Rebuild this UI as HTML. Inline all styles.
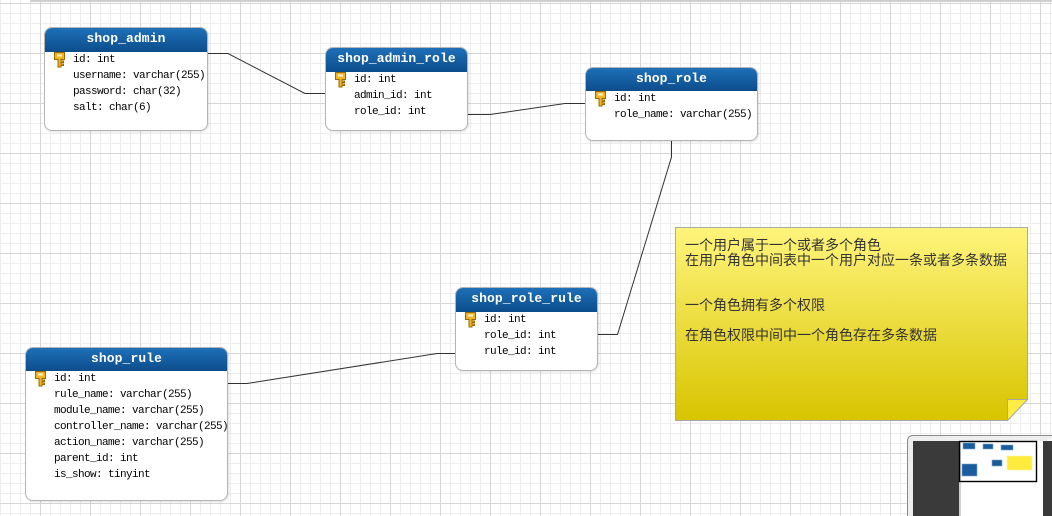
<!DOCTYPE html>
<html><head><meta charset="utf-8">
<style>
html,body{margin:0;padding:0;width:1052px;height:516px;overflow:hidden;background:#fff;}
.tbl{position:absolute;box-sizing:border-box;border:1px solid #b5b5b5;border-radius:8px;background:#fff;overflow:hidden;box-shadow:1px 1px 2px rgba(0,0,0,0.12);}
.hd{position:absolute;left:0;right:0;top:0;background:linear-gradient(#1e70b8,#0c4d8b);color:#fff;font-family:"Liberation Mono",monospace;font-weight:bold;font-size:13px;text-align:center;letter-spacing:0.1px;}
.rows{position:absolute;left:28px;font-family:"Liberation Mono",monospace;font-size:11px;letter-spacing:-0.6px;line-height:16px;color:#000;white-space:pre;}
.key{position:absolute;left:8px;}
.note{position:absolute;left:685px;top:238px;font-family:"Liberation Sans","Noto Sans CJK SC",sans-serif;font-size:14px;line-height:15px;color:#333;white-space:pre;}
</style></head><body>
<svg width="1052" height="516" style="position:absolute;left:0;top:0">
<defs>
<pattern id="mi" width="10" height="10" patternUnits="userSpaceOnUse" x="0" y="3"><rect x="0" y="0" width="1" height="10" fill="#ededed"/><rect x="0" y="0" width="10" height="1" fill="#ededed"/></pattern>
<pattern id="ma" width="50" height="50" patternUnits="userSpaceOnUse" x="40" y="3"><rect x="0" y="0" width="1" height="50" fill="#d6d6d6"/><rect x="0" y="0" width="50" height="1" fill="#d6d6d6"/></pattern>
<linearGradient id="ng" x1="0" y1="0" x2="0" y2="1"><stop offset="0" stop-color="#fff47c"/><stop offset="1" stop-color="#d8c400"/></linearGradient>
</defs>
<rect width="1052" height="516" fill="url(#mi)"/>
<rect width="1052" height="516" fill="url(#ma)"/>
<rect x="30" y="0" width="1022" height="2" fill="#cfcfcf"/>
<g stroke="#333" stroke-width="1" fill="none">
<path d="M207 53.5 H228 L305 93.5 H325"/>
<path d="M467 114.5 H490 L565 103.5 H585"/>
<path d="M671.5 140 V157 L617.5 334.5 H597"/>
<path d="M227 383.5 H247 L437 353.5 H455"/>
</g>
<polygon points="675.5,227.5 1027.5,227.5 1027.5,399.5 1007.5,420.5 675.5,420.5" fill="url(#ng)" stroke="#a8a8a8"/>
<polygon points="1007.5,399.5 1027.5,399.5 1007.5,420.5" fill="#ffec45" stroke="#a8a8a8"/>
<!-- minimap -->
<path d="M907.5 520 V441.5 Q907.5 435.5 913.5 435.5 H1056" fill="#eeeeee" stroke="#8a8a8a"/>
<rect x="913" y="441" width="139" height="75" fill="#3a3a3a"/>
<rect x="959" y="441" width="84" height="75" fill="#d0d0d0"/>
<rect x="961" y="441" width="82" height="75" fill="#ffffff"/>
<g fill="#1a5c9c" stroke="#7fa6cc" stroke-width="0.6">
<rect x="963" y="443" width="12" height="6"/>
<rect x="983" y="444" width="10" height="5"/>
<rect x="1001" y="445" width="12" height="5"/>
<rect x="962" y="464" width="15" height="12"/>
<rect x="992" y="460" width="10" height="6"/>
</g>
<rect x="1007" y="456" width="25" height="14" fill="#ffeb3b" stroke="#fff59a" stroke-width="0.6"/>
<rect x="959.5" y="441.5" width="77" height="40" fill="none" stroke="#000" stroke-width="1.4"/>
</svg>

<!-- shop_admin -->
<div class="tbl" style="left:44px;top:27px;width:164px;height:104px;">
<div class="hd" style="height:24px;line-height:22px;">shop_admin</div>
<svg class="key" style="top:23px" width="13" height="17" viewBox="0 0 13 17"><path d="M1.5 1.5 H11.5 V8.5 H8 V10 H10.5 V11.5 H8 V13 H10.5 V14.5 H8 V16 H5 V8.5 H1.5 Z" fill="#f0b429" stroke="#9a6a00"/><rect x="4" y="3.5" width="5" height="2" fill="#fff3c0"/></svg>
<div class="rows" style="top:24px">id: int
username: varchar(255)
password: char(32)
salt: char(6)</div>
</div>

<!-- shop_admin_role -->
<div class="tbl" style="left:325px;top:47px;width:143px;height:84px;">
<div class="hd" style="height:24px;line-height:22px;">shop_admin_role</div>
<svg class="key" style="top:23px" width="13" height="17" viewBox="0 0 13 17"><path d="M1.5 1.5 H11.5 V8.5 H8 V10 H10.5 V11.5 H8 V13 H10.5 V14.5 H8 V16 H5 V8.5 H1.5 Z" fill="#f0b429" stroke="#9a6a00"/><rect x="4" y="3.5" width="5" height="2" fill="#fff3c0"/></svg>
<div class="rows" style="top:24px">id: int
admin_id: int
role_id: int</div>
</div>

<!-- shop_role -->
<div class="tbl" style="left:585px;top:67px;width:173px;height:74px;">
<div class="hd" style="height:23px;line-height:22px;">shop_role</div>
<svg class="key" style="top:22px" width="13" height="17" viewBox="0 0 13 17"><path d="M1.5 1.5 H11.5 V8.5 H8 V10 H10.5 V11.5 H8 V13 H10.5 V14.5 H8 V16 H5 V8.5 H1.5 Z" fill="#f0b429" stroke="#9a6a00"/><rect x="4" y="3.5" width="5" height="2" fill="#fff3c0"/></svg>
<div class="rows" style="top:23px">id: int
role_name: varchar(255)</div>
</div>

<!-- shop_role_rule -->
<div class="tbl" style="left:455px;top:287px;width:143px;height:84px;">
<div class="hd" style="height:24px;line-height:22px;">shop_role_rule</div>
<svg class="key" style="top:23px" width="13" height="17" viewBox="0 0 13 17"><path d="M1.5 1.5 H11.5 V8.5 H8 V10 H10.5 V11.5 H8 V13 H10.5 V14.5 H8 V16 H5 V8.5 H1.5 Z" fill="#f0b429" stroke="#9a6a00"/><rect x="4" y="3.5" width="5" height="2" fill="#fff3c0"/></svg>
<div class="rows" style="top:24px">id: int
role_id: int
rule_id: int</div>
</div>

<!-- shop_rule -->
<div class="tbl" style="left:25px;top:347px;width:203px;height:154px;">
<div class="hd" style="height:23px;line-height:22px;">shop_rule</div>
<svg class="key" style="top:22px" width="13" height="17" viewBox="0 0 13 17"><path d="M1.5 1.5 H11.5 V8.5 H8 V10 H10.5 V11.5 H8 V13 H10.5 V14.5 H8 V16 H5 V8.5 H1.5 Z" fill="#f0b429" stroke="#9a6a00"/><rect x="4" y="3.5" width="5" height="2" fill="#fff3c0"/></svg>
<div class="rows" style="top:23px">id: int
rule_name: varchar(255)
module_name: varchar(255)
controller_name: varchar(255)
action_name: varchar(255)
parent_id: int
is_show: tinyint</div>
</div>

<div class="note">一个用户属于一个或者多个角色
在用户角色中间表中一个用户对应一条或者多条数据


一个角色拥有多个权限

在角色权限中间中一个角色存在多条数据</div>
</body></html>
